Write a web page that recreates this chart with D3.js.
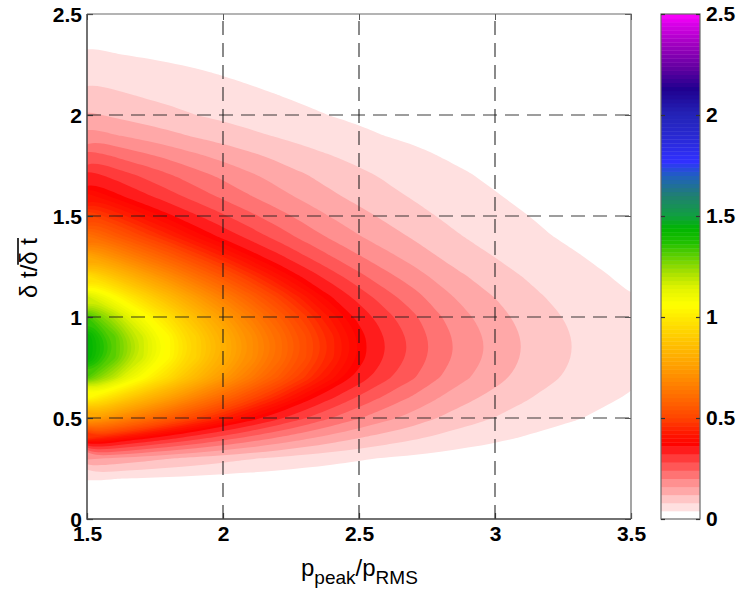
<!DOCTYPE html>
<html>
<head>
<meta charset="utf-8">
<script src="https://cdn.jsdelivr.net/npm/d3@7"></script>
<style>
  body { margin: 0; background: #fff; }
  svg { display: block; }
  text { font-family: "Liberation Sans", Arial, Helvetica, sans-serif; fill: #000; }
</style>
</head>
<body>
<svg id="chart" width="740" height="591"></svg>
<script>
// Grid of sample positions
const xValues = [1.5, 1.6, 1.7, 1.8, 1.9, 2.0, 2.1, 2.2, 2.3, 2.4, 2.5, 2.6, 2.7, 2.8, 2.9, 3.0, 3.1, 3.2, 3.3, 3.4, 3.5];
const yValues = [0.0, 0.1, 0.2, 0.3, 0.4, 0.5, 0.6, 0.7, 0.8, 0.9, 1.0, 1.1, 1.2, 1.3, 1.4, 1.5, 1.6, 1.7, 1.8, 1.9, 2.0, 2.1, 2.2, 2.3, 2.4, 2.5];

// Joint density, one row per yValues entry, one column per xValues entry
const density = [
  [0,0,0,0,0,0,0,0,0,0,0,0,0,0,0,0,0,0,0,0,0],
  [0.004,0.004,0.004,0.003,0.003,0.002,0.002,0.002,0.002,0.001,0.001,0.001,0.001,0.001,0.001,0,0,0,0,0,0],
  [0.045,0.041,0.037,0.033,0.029,0.025,0.022,0.019,0.016,0.014,0.012,0.010,0.008,0.007,0.006,0.005,0.004,0.003,0.002,0.002,0.002],
  [0.169,0.153,0.137,0.122,0.108,0.095,0.083,0.072,0.061,0.052,0.044,0.037,0.031,0.026,0.021,0.017,0.014,0.011,0.009,0.007,0.006],
  [0.460,0.416,0.372,0.332,0.293,0.258,0.225,0.195,0.167,0.142,0.120,0.101,0.085,0.069,0.057,0.047,0.038,0.030,0.025,0.020,0.016],
  [0.780,0.705,0.630,0.563,0.497,0.438,0.382,0.331,0.283,0.240,0.203,0.171,0.144,0.117,0.096,0.079,0.064,0.051,0.042,0.034,0.027],
  [1.050,0.949,0.848,0.759,0.669,0.590,0.514,0.446,0.381,0.324,0.273,0.230,0.194,0.158,0.129,0.106,0.086,0.069,0.056,0.045,0.037],
  [1.320,1.193,1.067,0.954,0.841,0.741,0.646,0.560,0.479,0.407,0.344,0.289,0.244,0.199,0.163,0.134,0.108,0.087,0.071,0.057,0.046],
  [1.450,1.311,1.172,1.048,0.923,0.814,0.710,0.616,0.526,0.447,0.377,0.318,0.268,0.218,0.179,0.147,0.119,0.095,0.077,0.063,0.051],
  [1.450,1.311,1.172,1.048,0.923,0.814,0.710,0.616,0.526,0.447,0.377,0.318,0.268,0.218,0.179,0.147,0.119,0.095,0.077,0.063,0.051],
  [1.340,1.212,1.083,0.968,0.854,0.753,0.656,0.569,0.487,0.413,0.349,0.294,0.248,0.202,0.165,0.136,0.110,0.088,0.072,0.058,0.047],
  [1.169,1.057,0.945,0.845,0.745,0.657,0.573,0.497,0.425,0.360,0.304,0.256,0.216,0.176,0.144,0.119,0.096,0.077,0.062,0.050,0.041],
  [0.969,0.876,0.784,0.701,0.618,0.544,0.475,0.412,0.352,0.299,0.252,0.212,0.179,0.146,0.120,0.098,0.080,0.064,0.052,0.042,0.034],
  [0.780,0.705,0.630,0.563,0.497,0.438,0.382,0.331,0.283,0.240,0.203,0.171,0.144,0.117,0.096,0.079,0.064,0.051,0.042,0.034,0.027],
  [0.621,0.561,0.502,0.448,0.395,0.349,0.304,0.264,0.225,0.191,0.162,0.136,0.115,0.094,0.077,0.063,0.051,0.041,0.033,0.027,0.022],
  [0.510,0.461,0.412,0.368,0.325,0.286,0.250,0.216,0.185,0.157,0.133,0.112,0.094,0.077,0.063,0.052,0.042,0.034,0.027,0.022,0.018],
  [0.410,0.371,0.332,0.296,0.261,0.230,0.201,0.174,0.149,0.126,0.107,0.090,0.076,0.062,0.051,0.042,0.034,0.027,0.022,0.018,0.014],
  [0.340,0.308,0.275,0.246,0.217,0.191,0.167,0.144,0.123,0.105,0.089,0.075,0.063,0.051,0.042,0.034,0.028,0.022,0.018,0.015,0.012],
  [0.260,0.235,0.210,0.188,0.166,0.146,0.127,0.110,0.094,0.080,0.068,0.057,0.048,0.039,0.032,0.026,0.021,0.017,0.014,0.011,0.009],
  [0.180,0.162,0.145,0.130,0.114,0.101,0.088,0.076,0.065,0.055,0.047,0.039,0.033,0.027,0.022,0.018,0.015,0.012,0.010,0.008,0.006],
  [0.126,0.114,0.101,0.091,0.080,0.071,0.061,0.053,0.046,0.039,0.033,0.028,0.023,0.019,0.015,0.013,0.010,0.008,0.007,0.005,0.004],
  [0.095,0.086,0.077,0.069,0.060,0.053,0.046,0.040,0.034,0.029,0.025,0.021,0.018,0.014,0.012,0.010,0.008,0.006,0.005,0.004,0.003],
  [0.070,0.063,0.057,0.051,0.045,0.039,0.034,0.030,0.025,0.022,0.018,0.015,0.013,0.011,0.009,0.007,0.006,0.005,0.004,0.003,0.002],
  [0.045,0.041,0.037,0.033,0.029,0.025,0.022,0.019,0.016,0.014,0.012,0.010,0.008,0.007,0.006,0.005,0.004,0.003,0.002,0.002,0.002],
  [0.031,0.028,0.025,0.022,0.020,0.017,0.015,0.013,0.011,0.009,0.008,0.007,0.006,0.005,0.004,0.003,0.003,0.002,0.002,0.001,0.001],
  [0.020,0.018,0.017,0.015,0.013,0.011,0.010,0.009,0.007,0.006,0.005,0.004,0.004,0.003,0.003,0.002,0.002,0.001,0.001,0.001,0.001]
];

const xTicks = [1.5, 2, 2.5, 3, 3.5];
const yTicks = [0, 0.5, 1, 1.5, 2, 2.5];
const colorbarTicks = [0, 0.5, 1, 1.5, 2, 2.5];

// Colour scale: discrete pinks for the low bands, then a continuous ramp
const pinkLevels = [0.04, 0.08, 0.12, 0.16, 0.20, 0.24, 0.28, 0.32];
const pinkColors = ["#ffe0e0", "#ffc6c6", "#ffa8a8", "#ff9090", "#ff7373", "#ff5757", "#ff3b3b", "#ff1c1c"];
const rampStops  = [0.36, 0.42, 0.50, 0.60, 0.70, 0.76, 0.88, 0.98, 1.06, 1.14, 1.22, 1.30, 1.37, 1.44, 1.50, 1.60, 1.70, 1.77, 1.90, 2.00, 2.13, 2.23, 2.35, 2.45, 2.50];
const rampColors = ["#ff0000", "#ff1400", "#ff4400", "#ff6a00", "#ff8c00", "#ffa000", "#ffc400", "#ffe400", "#ffff00", "#e4f400", "#a8e000", "#60d000", "#20c000", "#00b400", "#10a040", "#208070", "#2060c0", "#3030ff", "#2828d0", "#2424b8", "#200090", "#6000a0", "#a000c0", "#d800e8", "#ff00ff"];

const W = 740, H = 591;
const frame = { left: 87, right: 631, top: 14, bottom: 519 };
const bar = { left: 661, right: 700 };

const x = d3.scaleLinear().domain([1.5, 3.5]).range([frame.left, frame.right]);
const y = d3.scaleLinear().domain([0, 2.5]).range([frame.bottom, frame.top]);
const ramp = d3.scaleLinear().domain(rampStops).range(rampColors).interpolate(d3.interpolateRgb).clamp(true);

const fineStep = 0.02;
const rampLevels = d3.range(18, 125).map(k => +(k * fineStep).toFixed(2));
const thresholds = pinkLevels.concat(rampLevels);

function bandColor(lo) {
  if (lo < 0.04 - 1e-9) return "#ffffff";
  if (lo < 0.36 - 1e-9) return pinkColors[Math.round(lo / 0.04) - 1];
  return ramp(lo + fineStep / 2);
}

const svg = d3.select("#chart");
svg.append("rect").attr("width", W).attr("height", H).attr("fill", "#fff");

// ---- filled contours ----
const nx = xValues.length, ny = yValues.length;
const dxStep = xValues[1] - xValues[0], dyStep = yValues[1] - yValues[0];
const bands = d3.contours().size([nx, ny]).thresholds(thresholds)(density.flat());

// grid coordinates (sample i sits at i + 0.5) -> screen
const toScreen = ([gx, gy]) => [x(xValues[0] + (gx - 0.5) * dxStep), y(yValues[0] + (gy - 0.5) * dyStep)];
const ringLine = d3.line().curve(d3.curveBasisClosed);
const bandPath = mp => mp.coordinates
  .map(poly => poly.map(ring => ringLine(ring.slice(0, -1).map(toScreen))).join(""))
  .join("");

svg.append("clipPath").attr("id", "plot-clip")
  .append("rect")
  .attr("x", frame.left).attr("y", frame.top)
  .attr("width", frame.right - frame.left).attr("height", frame.bottom - frame.top);

const field = svg.append("g").attr("clip-path", "url(#plot-clip)");
field.append("rect")
  .attr("x", frame.left).attr("y", frame.top)
  .attr("width", frame.right - frame.left).attr("height", frame.bottom - frame.top)
  .attr("fill", "#fff");
field.selectAll("path")
  .data(bands.filter(b => b.coordinates.length))
  .join("path")
  .attr("d", bandPath)
  .attr("fill-rule", "evenodd")
  .attr("fill", d => bandColor(d.value))
  .attr("stroke", "none");

// ---- dashed grid ----
const grid = svg.append("g")
  .attr("stroke", "#1a1a1a").attr("stroke-opacity", 0.85)
  .attr("stroke-width", 1.2).attr("stroke-dasharray", "14,8");
grid.selectAll("line.v")
  .data(xTicks.filter(t => t > 1.5 && t < 3.5))
  .join("line").attr("class", "v")
  .attr("x1", d => x(d)).attr("x2", d => x(d))
  .attr("y1", frame.bottom).attr("y2", frame.top);
grid.selectAll("line.h")
  .data(yTicks.filter(t => t > 0 && t < 2.5))
  .join("line").attr("class", "h")
  .attr("x1", frame.left).attr("x2", frame.right)
  .attr("y1", d => y(d)).attr("y2", d => y(d));

// ---- axes ----
const tickFont = g => g.selectAll("text")
  .attr("font-size", 21).attr("font-weight", "bold")
  .attr("font-family", '"Liberation Sans", Arial, sans-serif').attr("fill", "#000");

const xAxis = svg.append("g")
  .attr("transform", `translate(0,${frame.bottom})`)
  .call(d3.axisBottom(x).tickValues(xTicks).tickFormat(d => String(d)).tickSize(-6).tickPadding(7));
xAxis.call(tickFont);
xAxis.select(".domain").remove();
xAxis.selectAll("line").attr("stroke", "#333").attr("stroke-width", 1.2);

const xAxisTop = svg.append("g")
  .attr("transform", `translate(0,${frame.top})`)
  .call(d3.axisTop(x).tickValues(xTicks).tickFormat("").tickSize(-6));
xAxisTop.select(".domain").remove();
xAxisTop.selectAll("line").attr("stroke", "#555").attr("stroke-width", 1);

const yAxis = svg.append("g")
  .attr("transform", `translate(${frame.left},0)`)
  .call(d3.axisLeft(y).tickValues(yTicks).tickFormat(d => String(d)).tickSize(-6).tickPadding(5));
yAxis.call(tickFont);
yAxis.selectAll("text").attr("dy", "0.34em");
yAxis.select(".domain").remove();
yAxis.selectAll("line").attr("stroke", "#333").attr("stroke-width", 1.2);

const yAxisRight = svg.append("g")
  .attr("transform", `translate(${frame.right},0)`)
  .call(d3.axisRight(y).tickValues(yTicks).tickFormat("").tickSize(-6));
yAxisRight.select(".domain").remove();
yAxisRight.selectAll("line").attr("stroke", "#555").attr("stroke-width", 1);

// frame
svg.append("path")
  .attr("d", `M${frame.left},${frame.top}H${frame.right}V${frame.bottom}`)
  .attr("fill", "none").attr("stroke", "#6a6a6a").attr("stroke-width", 1.2);
svg.append("path")
  .attr("d", `M${frame.left},${frame.top}V${frame.bottom}H${frame.right}`)
  .attr("fill", "none").attr("stroke", "#444").attr("stroke-width", 1.5);

// ---- colour bar ----
const cb = d3.scaleLinear().domain([0, 2.5]).range([frame.bottom, frame.top]);
const edges = [0].concat(thresholds, [2.5]);
const cbBands = d3.pairs(edges);
svg.append("g").selectAll("rect")
  .data(cbBands)
  .join("rect")
  .attr("x", bar.left).attr("width", bar.right - bar.left)
  .attr("y", d => cb(d[1])).attr("height", d => cb(d[0]) - cb(d[1]) + 0.4)
  .attr("fill", d => bandColor(d[0]));
svg.append("rect")
  .attr("x", bar.left).attr("y", frame.top)
  .attr("width", bar.right - bar.left).attr("height", frame.bottom - frame.top)
  .attr("fill", "none").attr("stroke", "#6a6a6a").attr("stroke-width", 1.2);

const cbAxis = svg.append("g")
  .attr("transform", `translate(${bar.right},0)`)
  .call(d3.axisRight(cb).tickValues(colorbarTicks).tickFormat(d => String(d)).tickSize(-4).tickPadding(6));
cbAxis.call(tickFont);
cbAxis.select(".domain").remove();
cbAxis.selectAll("line").attr("stroke", "#333").attr("stroke-width", 1.2);
const cbAxisL = svg.append("g")
  .attr("transform", `translate(${bar.left},0)`)
  .call(d3.axisLeft(cb).tickValues(colorbarTicks).tickFormat("").tickSize(-4));
cbAxisL.select(".domain").remove();
cbAxisL.selectAll("line").attr("stroke", "#333").attr("stroke-width", 1.2);

// ---- axis titles ----
const xTitle = svg.append("text")
  .attr("x", 301).attr("y", 576)
  .attr("font-size", 24);
xTitle.append("tspan").text("p");
xTitle.append("tspan").attr("font-size", 19).attr("dy", 8).text("peak");
xTitle.append("tspan").attr("dy", -8).text("/p");
xTitle.append("tspan").attr("font-size", 19).attr("dy", 8).text("RMS");

const yTitle = svg.append("g").attr("transform", "translate(37,268) rotate(-90)");
const yText = yTitle.append("text").attr("font-size", 24).attr("x", 0).attr("y", 0).text("δ t/δ t");
const node = yText.node();
const total = node.getComputedTextLength();
yText.attr("x", -total / 2);
const barStart = node.getSubStringLength(0, 4);
const barLen = node.getSubStringLength(4, 3);
yTitle.append("line")
  .attr("x1", -total / 2 + barStart).attr("x2", -total / 2 + barStart + barLen)
  .attr("y1", -19).attr("y2", -19)
  .attr("stroke", "#000").attr("stroke-width", 1.6);
</script>
</body>
</html>
